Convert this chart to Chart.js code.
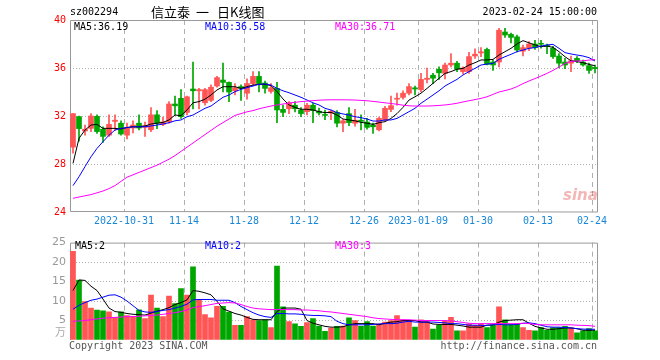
<!DOCTYPE html>
<html>
<head>
<meta charset="utf-8">
<script src="https://cdn.jsdelivr.net/npm/chart.js@4"></script>
<style>
  body { margin: 0; background: #fff; }
  #wrap { position: relative; width: 660px; height: 360px; overflow: hidden; font-family: "DejaVu Sans Mono", monospace; font-size: 10px; }
  .t { position: absolute; white-space: pre; line-height: 12px; }
  .cjk { font-family: "Noto Sans CJK SC"; font-size: 13px; line-height: 16px; top: 4px; color: #000; }
  canvas { position: absolute; left: 0; }
</style>
</head>
<body>
<div id="wrap">
  <canvas id="priceChart" width="660" height="232" style="top:0"></canvas>
  <canvas id="volChart" width="660" height="128" style="top:232px"></canvas>

  <div class="t" style="left:70px;top:6px;color:#000">sz002294</div>
  <div class="t cjk" style="left:151px">信立泰</div>
  <div class="t cjk" style="left:196px">一</div>
  <div class="t cjk" style="left:217px">日K线图</div>
  <div class="t" style="right:63px;top:6px;color:#000">2023-02-24 15:00:00</div>

  <div class="t" style="left:74px;top:21px;color:#000">MA5:36.19</div>
  <div class="t" style="left:205px;top:21px;color:#0000ff">MA10:36.58</div>
  <div class="t" style="left:335px;top:21px;color:#ff00ff">MA30:36.71</div>

  <div class="t" style="left:75px;top:240px;color:#000">MA5:2</div>
  <div class="t" style="left:205px;top:240px;color:#0000ff">MA10:2</div>
  <div class="t" style="left:335px;top:240px;color:#ff00ff">MA30:3</div>

  <div class="t" style="right:594px;top:325px;color:#aaa;font-family:'Noto Sans CJK SC';font-size:11px;line-height:12px">万</div>
  <div class="t" style="left:563px;top:186px;color:rgba(225,70,70,0.4);font-family:'DejaVu Sans';font-style:italic;font-weight:bold;font-size:15px;line-height:18px">sina</div>

  <div class="t" style="left:69px;top:340px;color:#555">Copyright 2023 SINA.COM</div>
  <div class="t" style="right:63px;top:340px;color:#555">http://finance.sina.com.cn</div>
</div>

<script>
const dates = [
  "2022-10-18", "2022-10-19", "2022-10-20", "2022-10-21", "2022-10-24", "2022-10-25", "2022-10-26", "2022-10-27", "2022-10-28", "2022-10-31",
  "2022-11-01", "2022-11-02", "2022-11-03", "2022-11-04", "2022-11-07", "2022-11-08", "2022-11-09", "2022-11-10", "2022-11-11", "2022-11-14",
  "2022-11-15", "2022-11-16", "2022-11-17", "2022-11-18", "2022-11-21", "2022-11-22", "2022-11-23", "2022-11-24", "2022-11-25", "2022-11-28",
  "2022-11-29", "2022-11-30", "2022-12-01", "2022-12-02", "2022-12-05", "2022-12-06", "2022-12-07", "2022-12-08", "2022-12-09", "2022-12-12",
  "2022-12-13", "2022-12-14", "2022-12-15", "2022-12-16", "2022-12-19", "2022-12-20", "2022-12-21", "2022-12-22", "2022-12-23", "2022-12-26",
  "2022-12-27", "2022-12-28", "2022-12-29", "2022-12-30", "2023-01-03", "2023-01-04", "2023-01-05", "2023-01-06", "2023-01-09", "2023-01-10",
  "2023-01-11", "2023-01-12", "2023-01-13", "2023-01-16", "2023-01-17", "2023-01-18", "2023-01-19", "2023-01-20", "2023-01-30", "2023-01-31",
  "2023-02-01", "2023-02-02", "2023-02-03", "2023-02-06", "2023-02-07", "2023-02-08", "2023-02-09", "2023-02-10", "2023-02-13", "2023-02-14",
  "2023-02-15", "2023-02-16", "2023-02-17", "2023-02-20", "2023-02-21", "2023-02-22", "2023-02-23", "2023-02-24"
];

const opens = [
  29.4, 31.95, 30.75, 30.97, 31.97, 30.9, 30.4, 31.55, 31.4, 30.4,
  31.0, 31.4, 31.05, 30.85, 32.1, 31.3, 31.5, 33.0, 33.47, 32.3,
  34.25, 34.1, 33.1, 33.3, 34.5, 35.0, 34.8, 34.1, 34.45, 33.9,
  34.7, 35.3, 34.75, 34.05, 34.3, 32.55, 32.6, 32.9, 32.5, 32.36,
  32.9, 32.4, 32.1, 32.25, 32.3, 31.4, 32.2, 31.4, 31.65, 31.5,
  31.25, 30.85, 31.67, 32.55, 33.4, 33.55, 33.9, 34.35, 34.2, 35.05,
  35.4, 35.9, 35.55, 36.25, 36.4, 35.7, 35.7, 37.0, 37.25, 37.55,
  36.5, 36.5, 39.0, 38.8, 38.6, 37.4, 37.65, 38.0, 38.05, 37.9,
  37.65, 37.0, 36.5, 36.4, 36.8, 36.5, 36.2, 36.05
];
const closes = [
  32.2, 30.95, 30.9, 32.0, 30.7, 30.3, 31.3, 31.65, 30.5, 31.0,
  31.25, 31.0, 31.2, 32.1, 31.4, 31.5, 33.0, 32.85, 31.94, 33.6,
  34.1, 34.2, 34.2, 34.4, 35.2, 34.8, 34.0, 34.35, 34.3, 34.7,
  35.3, 34.7, 34.3, 34.35, 32.5, 32.3, 33.1, 32.6, 32.2, 32.9,
  32.45, 32.25, 32.05, 32.4, 31.4, 31.6, 31.45, 31.65, 31.55, 31.05,
  31.1, 31.8, 32.64, 32.86, 33.45, 33.9, 34.45, 34.25, 35.05, 35.15,
  35.15, 35.6, 36.25, 36.4, 35.9, 36.0, 36.95, 37.15, 37.35, 36.3,
  36.25, 39.15, 38.75, 38.55, 37.5, 37.7, 38.0, 37.7, 37.98, 37.8,
  36.95, 36.4, 36.25, 36.6, 36.6, 36.25, 35.8, 35.95
];
const highs = [
  32.2, 32.0, 31.25, 32.2, 32.1, 31.1, 32.1, 32.1, 31.6, 31.4,
  31.6, 32.1, 31.5, 32.7, 32.45, 31.9, 33.2, 33.67, 34.2, 33.67,
  36.5, 34.3, 34.3, 34.6, 35.3, 36.4, 34.85, 34.7, 34.6, 35.1,
  35.7, 35.7, 34.9, 34.7, 34.8, 32.9, 33.2, 33.2, 32.7, 33.05,
  33.05, 32.65, 32.5, 32.5, 32.45, 31.7, 32.7, 32.55, 32.1, 31.8,
  31.4, 31.9, 32.8, 33.67, 33.9, 34.1, 34.7, 34.5, 35.55, 36.0,
  35.55, 36.1, 36.4, 37.2, 36.55, 36.1, 37.3, 37.6, 37.7, 37.65,
  36.65, 39.3, 39.3, 38.9, 38.75, 37.9, 38.2, 38.3, 38.3, 38.0,
  37.8, 37.2, 36.8, 37.0, 36.95, 36.67, 36.4, 36.25
];
const lows = [
  28.9, 29.9, 30.4, 30.7, 30.55, 29.8, 30.3, 30.8, 30.4, 30.1,
  30.6, 30.85, 30.3, 30.7, 30.95, 31.2, 31.4, 32.1, 31.8, 32.1,
  32.6, 32.6, 32.9, 33.2, 34.4, 34.0, 33.2, 33.75, 33.3, 33.4,
  34.5, 34.0, 33.9, 33.9, 31.45, 31.95, 32.2, 32.35, 31.95, 32.1,
  31.45, 32.1, 31.7, 31.7, 31.1, 30.7, 31.2, 31.15, 30.85, 30.9,
  30.55, 30.75, 31.6, 32.36, 32.9, 33.4, 33.75, 33.75, 34.0, 34.75,
  34.7, 35.05, 35.1, 36.1, 35.7, 35.5, 35.55, 36.8, 36.95, 36.25,
  35.8, 36.1, 38.55, 38.1, 37.35, 37.0, 37.45, 37.55, 37.65, 37.2,
  36.8, 36.0, 35.95, 35.7, 36.45, 36.15, 35.55, 35.6
];

const ma5 = [
  28.05, 30.14, 30.83, 31.25, 31.3, 30.97, 30.97, 30.97, 30.92, 31.05,
  31.1, 31.1, 31.17, 31.33, 31.4, 31.47, 31.67, 32.08, 32.03, 32.5,
  33.1, 33.2, 33.4, 33.75, 34.17, 34.44, 34.44, 34.44, 34.3, 34.44,
  34.58, 34.64, 34.64, 34.53, 34.03, 33.42, 32.92, 32.72, 32.56, 32.56,
  32.5, 32.36, 32.28, 32.3, 32.08, 31.75, 31.67, 31.6, 31.47, 31.4,
  31.3, 31.44, 31.53, 31.8, 32.2, 32.72, 33.33, 33.6, 33.9, 34.3,
  34.72, 35.14, 35.55, 35.7, 35.9, 35.97, 36.25, 36.44, 36.67, 36.67,
  36.72, 37.08, 37.36, 37.64, 38.0, 38.28, 38.1, 37.92, 37.78, 37.83,
  37.72, 37.36, 36.94, 36.6, 36.53, 36.44, 36.3, 36.19
];
const ma10 = [
  26.2, 26.94, 27.78, 28.6, 29.3, 29.86, 30.4, 30.83, 30.97, 31.03,
  31.1, 31.1, 31.1, 31.17, 31.25, 31.33, 31.44, 31.6, 31.67, 31.94,
  32.08, 32.36, 32.64, 32.83, 33.2, 33.56, 33.75, 34.03, 34.22, 34.36,
  34.5, 34.64, 34.67, 34.58, 34.3, 34.1, 33.94, 33.75, 33.56, 33.33,
  33.1, 32.92, 32.64, 32.5, 32.28, 32.17, 32.08, 31.94, 31.86, 31.75,
  31.58, 31.58, 31.67, 31.67, 31.8, 32.08, 32.36, 32.64, 33.06, 33.4,
  33.75, 34.1, 34.5, 34.78, 35.05, 35.42, 35.7, 35.97, 36.25, 36.33,
  36.39, 36.72, 36.94, 37.14, 37.36, 37.5, 37.64, 37.7, 37.83, 37.92,
  37.97, 37.64, 37.28, 37.17, 37.08, 37.0, 36.86, 36.58
];
const ma30 = [
  25.14, 25.25, 25.35, 25.45, 25.6, 25.75, 25.95, 26.2, 26.55, 26.9,
  27.1, 27.3, 27.5, 27.7, 27.9, 28.15, 28.4, 28.7, 29.05, 29.4,
  29.75, 30.1, 30.45, 30.8, 31.15, 31.45, 31.75, 32.05, 32.2, 32.35,
  32.45, 32.6, 32.72, 32.83, 32.92, 33.0, 33.08, 33.14, 33.2, 33.24,
  33.28, 33.32, 33.34, 33.35, 33.35, 33.35, 33.34, 33.33, 33.3, 33.27,
  33.22, 33.16, 33.1, 33.04, 32.98, 32.9, 32.85, 32.83, 32.83, 32.83,
  32.85, 32.88, 32.92, 32.98, 33.06, 33.17, 33.27, 33.37, 33.47, 33.6,
  33.8, 34.0, 34.12, 34.25, 34.45, 34.7, 34.92, 35.12, 35.33, 35.55,
  35.8, 36.08, 36.38, 36.55, 36.58, 36.6, 36.66, 36.71
];

// volume in 万手
const volumes = [
  22.75, 15.4, 9.83, 8.17, 7.67, 7.5, 7.25, 5.83, 7.25, 6.25,
  6.0, 7.75, 5.5, 11.5, 8.17, 6.0, 11.25, 9.33, 13.17, 11.5,
  18.75, 10.4, 6.5, 5.67, 8.67, 8.67, 7.17, 3.75, 3.75, 6.0,
  5.17, 5.0, 5.17, 3.17, 19.0, 8.5, 4.75, 4.17, 3.5, 4.5,
  5.5, 3.58, 2.25, 3.08, 3.5, 3.58, 5.67, 5.0, 3.5, 4.75,
  3.58, 4.17, 4.58, 5.0, 6.25, 5.17, 5.0, 3.33, 5.17, 4.83,
  2.83, 3.75, 4.83, 5.83, 2.33, 2.33, 4.17, 3.75, 4.17, 3.17,
  3.75, 8.5, 5.17, 4.0, 4.17, 3.17, 2.5, 2.33, 3.17, 2.5,
  3.17, 3.17, 3.5, 3.08, 1.83, 2.33, 2.92, 2.33
];
const volMa5 = [
  12.7, 15.4, 15.3, 13.8, 12.7, 10.5, 8.2, 7.3, 7.1, 6.8,
  6.6, 6.5, 6.4, 6.9, 7.4, 7.8, 8.3, 9.1, 9.6, 10.3,
  12.7, 12.5, 12.1, 11.6, 9.9, 8.0, 7.4, 6.8, 6.4, 5.8,
  5.3, 5.2, 5.2, 5.2, 7.3, 8.2, 8.2, 8.2, 7.9, 5.0,
  4.3, 3.9, 3.5, 3.3, 3.3, 3.4, 3.9, 4.2, 4.2, 4.2,
  4.2, 3.9, 4.3, 4.6, 4.7, 5.0, 5.0, 5.0, 4.6, 4.6,
  4.1, 4.0, 4.0, 4.0, 3.8, 3.6, 3.3, 3.3, 3.3, 3.8,
  3.9, 4.6, 5.0, 5.1, 5.2, 5.2, 4.3, 3.5, 3.1, 2.75,
  2.75, 2.9, 3.1, 3.1, 2.9, 2.5, 2.5, 2.5
];
const volMa10 = [
  7.9, 8.9, 9.6, 10.2, 10.5, 11.0, 11.5, 11.6, 11.0, 10.0,
  8.8, 7.6, 7.2, 7.1, 7.3, 7.6, 7.8, 8.2, 8.6, 9.2,
  10.3, 10.4, 10.4, 10.4, 10.2, 10.2, 10.2, 9.6, 8.6, 7.8,
  7.0, 6.4, 6.0, 5.8, 6.8, 6.8, 6.7, 6.7, 6.6, 6.4,
  6.3, 6.3, 6.2, 6.0, 4.8, 4.2, 3.9, 3.9, 3.9, 3.9,
  4.0, 4.1, 4.2, 4.2, 4.3, 4.6, 4.8, 4.6, 4.6, 4.6,
  4.6, 4.5, 4.4, 4.2, 4.2, 4.0, 3.8, 3.8, 3.75, 3.75,
  3.9, 4.0, 3.9, 3.9, 4.0, 4.3, 4.4, 4.2, 3.8, 3.4,
  3.3, 3.3, 3.2, 3.1, 2.9, 2.8, 2.75, 2.75
];
const volMa30 = [
  4.8, 4.9, 5.0, 5.2, 5.4, 5.6, 5.7, 5.8, 5.9, 6.0,
  6.0, 6.1, 6.2, 6.3, 6.4, 6.6, 6.8, 7.0, 7.3, 7.7,
  8.3, 8.6, 8.8, 9.1, 9.4, 9.5, 9.6, 9.5, 9.1, 8.6,
  8.2, 8.0, 7.9, 7.8, 7.8, 7.8, 7.8, 7.8, 7.7, 7.7,
  7.6, 7.5, 7.3, 7.2, 7.0, 6.8, 6.6, 6.4, 6.2, 6.0,
  5.7, 5.5, 5.4, 5.3, 5.2, 5.2, 5.2, 5.1, 5.0, 5.0,
  5.0, 5.0, 5.0, 4.9, 4.7, 4.5, 4.3, 4.2, 4.2, 4.2,
  4.2, 4.2, 4.2, 4.2, 4.2, 4.3, 4.2, 4.0, 3.9, 3.9,
  3.9, 3.9, 3.9, 3.9, 3.8, 3.75, 3.7, 3.5
];

const tickDates = ["2022-10-31", "2022-11-14", "2022-11-28", "2022-12-12", "2022-12-26", "2023-01-09", "2023-01-30", "2023-02-13", "2023-02-24"];
const tickText = ["2022-10-31", "11-14", "11-28", "12-12", "12-26", "2023-01-09", "01-30", "02-13", "02-24"];
const priceGrid = [28, 32, 36];
const volGrid = [5, 10, 15, 20];

const RED = "#ff5555";
const GREEN = "#00a600";
const GRID = "#b0b0b0";
const tickIdx = tickDates.map((d) => dates.indexOf(d));
const candleColors = closes.map((c, i) => (c >= opens[i] ? RED : GREEN));
const monoFont = { family: "DejaVu Sans Mono", size: 10 };

function framePlugin(drawBottom) {
  return {
    id: "frame",
    beforeDatasetsDraw(chart) {
      const a = chart.chartArea;
      const c = chart.ctx;
      c.save();
      c.strokeStyle = "#999";
      c.lineWidth = 1;
      c.beginPath();
      if (drawBottom) {
        c.moveTo(a.left + 0.5, a.bottom - 0.5);
      } else {
        c.moveTo(a.left + 0.5, a.bottom);
      }
      c.lineTo(a.left + 0.5, a.top + 0.5);
      c.lineTo(a.right - 0.5, a.top + 0.5);
      c.lineTo(a.right - 0.5, a.bottom);
      if (drawBottom) c.lineTo(a.left + 0.5, a.bottom - 0.5);
      c.stroke();
      c.restore();
    },
  };
}

function xScale(showLabels) {
  return {
    offset: true,
    afterFit: (scale) => { scale.height = 20; },
    grid: {
      offset: true,
      drawTicks: false,
      color: (ctx) => (tickIdx.includes(ctx.index) && ctx.index > 0 ? GRID : "transparent"),
    },
    border: { display: false, dash: [5, 4] },
    ticks: {
      display: showLabels,
      autoSkip: false,
      maxRotation: 0,
      labelOffset: -3,
      padding: 3,
      color: "#1a88d8",
      font: monoFont,
      callback: (val, i) => {
        const k = tickIdx.indexOf(i);
        return k >= 0 ? tickText[k] : "";
      },
    },
  };
}

function lineSet(data, color) {
  return {
    type: "line",
    data: data,
    borderColor: color,
    borderWidth: 1,
    pointRadius: 0,
    tension: 0,
    order: 0,
  };
}

const priceChart = new Chart(document.getElementById("priceChart").getContext("2d"), {
  type: "bar",
  data: {
    labels: dates,
    datasets: [
      lineSet(ma30, "#ff00ff"),
      lineSet(ma10, "#0000ff"),
      lineSet(ma5, "#000000"),
      {
        data: opens.map((o, i) => [o, closes[i]]),
        backgroundColor: candleColors,
        barThickness: 5,
        minBarLength: 1,
        grouped: false,
        order: 1,
      },
      {
        data: lows.map((l, i) => [l, highs[i]]),
        backgroundColor: candleColors,
        barThickness: 1,
        grouped: false,
        order: 2,
      },
    ],
  },
  options: {
    responsive: false,
    animation: false,
    layout: { padding: { top: 20, right: 62, left: 0, bottom: 0 } },
    plugins: { legend: { display: false }, tooltip: { enabled: false } },
    scales: {
      x: xScale(true),
      y: {
        min: 24,
        max: 40,
        afterFit: (scale) => { scale.width = 70; },
        grid: {
          drawTicks: false,
          color: (ctx) => (ctx.tick && priceGrid.includes(ctx.tick.value) ? GRID : "transparent"),
        },
        border: { display: false, dash: [1, 2] },
        ticks: { stepSize: 4, padding: 4, color: "#ff0000", font: monoFont },
      },
    },
  },
  plugins: [framePlugin(true)],
});

const volChart = new Chart(document.getElementById("volChart").getContext("2d"), {
  type: "bar",
  data: {
    labels: dates,
    datasets: [
      lineSet(volMa30, "#ff00ff"),
      lineSet(volMa10, "#0000ff"),
      lineSet(volMa5, "#000000"),
      {
        data: volumes,
        backgroundColor: candleColors,
        barThickness: 5,
        order: 1,
      },
    ],
  },
  options: {
    responsive: false,
    animation: false,
    layout: { padding: { top: 8, right: 62, left: 0, bottom: 0 } },
    plugins: { legend: { display: false }, tooltip: { enabled: false } },
    scales: {
      x: xScale(false),
      y: {
        min: 0,
        max: 25,
        afterFit: (scale) => { scale.width = 70; },
        grid: {
          drawTicks: false,
          color: (ctx) => (ctx.tick && volGrid.includes(ctx.tick.value) ? GRID : "transparent"),
        },
        border: { display: false, dash: [1, 2] },
        ticks: {
          stepSize: 5,
          padding: 4,
          color: "#999",
          font: { family: "DejaVu Sans", size: 11 },
          callback: (v) => (v === 0 ? "" : v),
        },
      },
    },
  },
  plugins: [framePlugin(false)],
});
</script>
</body>
</html>
